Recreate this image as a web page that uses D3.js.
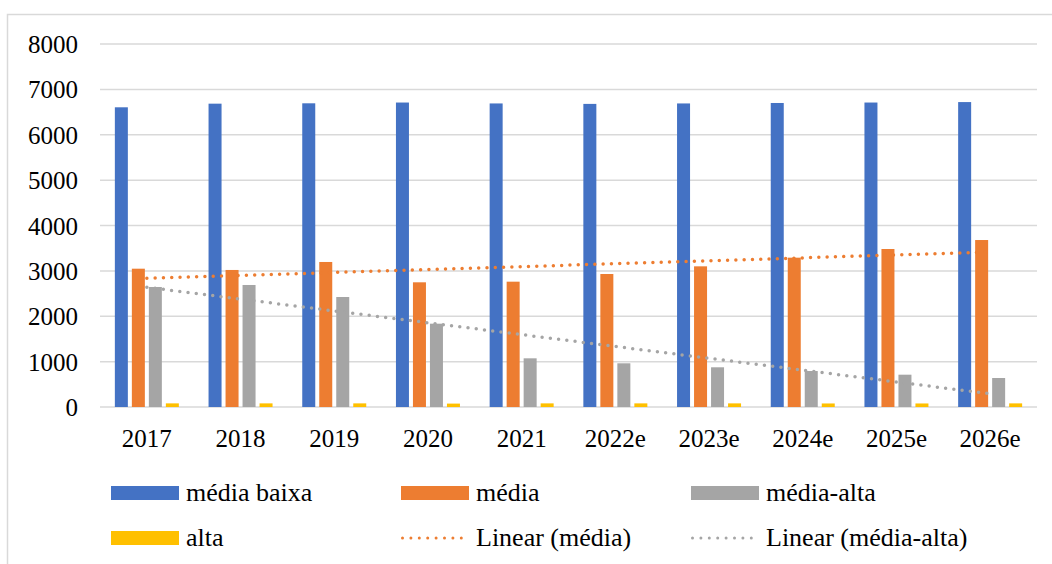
<!DOCTYPE html>
<html>
<head>
<meta charset="utf-8">
<script src="https://cdn.jsdelivr.net/npm/d3@7"></script>
<style>
  body { margin: 0; background: #fff; }
</style>
</head>
<body>
<div id="chart"></div>
<script>
var width = 1052;
var height = 564;
var serif = "'Liberation Serif', 'Times New Roman', serif";

// data
var years = ["2017", "2018", "2019", "2020", "2021", "2022e", "2023e", "2024e", "2025e", "2026e"];
var mediaBaixa = [6605, 6685, 6693, 6710, 6690, 6680, 6690, 6700, 6710, 6720];
var media = [3048, 3020, 3196, 2748, 2762, 2931, 3100, 3291, 3482, 3680];
var mediaAlta = [2645, 2689, 2424, 1836, 1073, 963, 875, 793, 712, 639];
var alta = [80, 80, 80, 75, 80, 80, 80, 78, 78, 80];
var yTicks = [0, 1000, 2000, 3000, 4000, 5000, 6000, 7000, 8000];

var series = [
  { key: "média baixa", values: mediaBaixa, color: "#4472C4" },
  { key: "média", values: media, color: "#ED7D31" },
  { key: "média-alta", values: mediaAlta, color: "#A5A5A5" },
  { key: "alta", values: alta, color: "#FFC000" }
];

// least squares trend on category index 1..n
function linearTrend(vals) {
  var n = vals.length;
  var mx = (n + 1) / 2, my = d3.mean(vals);
  var sxy = 0, sxx = 0;
  vals.forEach(function(v, i) {
    sxy += (i + 1 - mx) * (v - my);
    sxx += (i + 1 - mx) * (i + 1 - mx);
  });
  var b = sxy / sxx, a = my - b * mx;
  return [a + b * 1, a + b * n];
}

var svg = d3.select("#chart")
  .append("svg")
  .attr("width", width)
  .attr("height", height);

// outer chart frame
svg.append("rect")
  .attr("x", 7.5).attr("y", 14.5)
  .attr("width", 1100).attr("height", 600)
  .attr("fill", "none")
  .attr("stroke", "#d9d9d9")
  .attr("stroke-width", 1.5);

var x = d3.scaleBand().domain(years).range([100, 1037]);
var y = d3.scaleLinear().domain([0, 8000]).range([407, 44]);
var inner = d3.scaleBand()
  .domain(series.map(function(s) { return s.key; }))
  .range([-32, 32])
  .paddingInner(4 / 17);

// gridlines
svg.append("g")
  .selectAll("line")
  .data(yTicks)
  .enter().append("line")
  .attr("x1", 100).attr("x2", 1037)
  .attr("y1", function(d) { return y(d); })
  .attr("y2", function(d) { return y(d); })
  .attr("stroke", "#d9d9d9")
  .attr("stroke-width", 1.5);

// y axis labels
var yAxis = svg.append("g")
  .attr("transform", "translate(78,0)")
  .call(d3.axisLeft(y).tickValues(yTicks).tickFormat(d3.format("d")).tickSize(0).tickPadding(0));
yAxis.attr("font-family", serif).attr("font-size", 25);
yAxis.select(".domain").remove();
yAxis.selectAll("text")
  .attr("fill", "#000")
  .attr("dy", "0.34em");

// x axis labels
var xAxis = svg.append("g")
  .attr("transform", "translate(0,427)")
  .call(d3.axisBottom(x).tickSize(0).tickPadding(0));
xAxis.attr("font-family", serif).attr("font-size", 25);
xAxis.select(".domain").remove();
xAxis.selectAll("text")
  .attr("fill", "#000")
  .attr("dy", "0.8em");

// bars
series.forEach(function(s) {
  svg.append("g")
    .selectAll("rect")
    .data(s.values)
    .enter().append("rect")
    .attr("x", function(d, i) { return x(years[i]) + x.bandwidth() / 2 + inner(s.key); })
    .attr("width", inner.bandwidth())
    .attr("y", function(d) { return y(d); })
    .attr("height", function(d) { return y(0) - y(d); })
    .attr("fill", s.color);
});

// trend lines
var trends = [
  { key: "Linear (média)", ends: linearTrend(media), color: "#ED7D31" },
  { key: "Linear (média-alta)", ends: linearTrend(mediaAlta), color: "#A5A5A5" }
];
var cx = function(i) { return x(years[i]) + x.bandwidth() / 2; };
trends.forEach(function(t) {
  svg.append("line")
    .attr("x1", cx(0)).attr("y1", y(t.ends[0]))
    .attr("x2", cx(years.length - 1)).attr("y2", y(t.ends[1]))
    .attr("stroke", t.color)
    .attr("stroke-width", 3.5)
    .attr("stroke-linecap", "round")
    .attr("stroke-dasharray", "0 8.3");
});

// legend
var legendItems = [
  { label: "média baixa", color: "#4472C4", type: "bar" },
  { label: "média", color: "#ED7D31", type: "bar" },
  { label: "média-alta", color: "#A5A5A5", type: "bar" },
  { label: "alta", color: "#FFC000", type: "bar" },
  { label: "Linear (média)", color: "#ED7D31", type: "line" },
  { label: "Linear (média-alta)", color: "#A5A5A5", type: "line" }
];
var legend = svg.append("g")
  .selectAll("g")
  .data(legendItems)
  .enter().append("g")
  .attr("transform", function(d, i) {
    return "translate(" + (111 + (i % 3) * 290) + "," + (493 + Math.floor(i / 3) * 45) + ")";
  });
legend.filter(function(d) { return d.type == "bar"; })
  .append("rect")
  .attr("x", 0).attr("y", -7)
  .attr("width", 68).attr("height", 14)
  .attr("fill", function(d) { return d.color; });
legend.filter(function(d) { return d.type == "line"; })
  .append("line")
  .attr("x1", 1.5).attr("x2", 68)
  .attr("y1", 0).attr("y2", 0)
  .attr("stroke", function(d) { return d.color; })
  .attr("stroke-width", 3)
  .attr("stroke-linecap", "round")
  .attr("stroke-dasharray", "0 8.4");
legend.append("text")
  .attr("x", 75)
  .attr("y", 8)
  .attr("font-family", serif)
  .attr("font-size", 26)
  .attr("fill", "#000")
  .text(function(d) { return d.label; });
</script>
</body>
</html>
